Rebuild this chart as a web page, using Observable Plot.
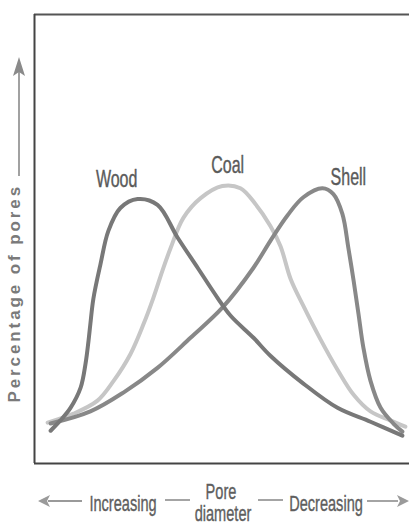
<!DOCTYPE html>
<html><head><meta charset="utf-8">
<script src="https://cdn.jsdelivr.net/npm/d3@7"></script>
<script src="https://cdn.jsdelivr.net/npm/@observablehq/plot@0.6"></script>
<style>
body{margin:0;background:#fff;}
#wrap{width:409px;height:523px;position:relative;overflow:hidden;background:#fff;}
#wrap svg{display:block;}
</style></head><body><div id="wrap"></div>
<script>
// Pore diameter position (0 = left edge of frame, 100 = right edge), percentage of pores (relative 0-100)
const woodX  = [4.3, 6.9, 9.6, 12.3, 13.6, 14.4, 14.9, 15.7, 17.6, 19.7, 22.9, 27.5, 32.8, 38.1, 43.5, 48.8, 52.3, 58.4, 62.9, 71.7, 80.8, 89.6, 98.1];
const woodY  = [7.3, 9.6, 12.4, 16.9, 22.2, 27.3, 31.1, 36.7, 44.4, 51.8, 56.9, 58.9, 57.6, 50.4, 43.6, 36.9, 32.9, 28.0, 24.0, 17.8, 12.4, 9.3, 6.2];
const coalX  = [3.5, 10.4, 16.8, 21.1, 25.6, 29.1, 31.7, 34.1, 36.3, 39.7, 44.3, 50.1, 54.9, 58.9, 62.9, 65.6, 68.3, 71.7, 76.3, 80.8, 85.1, 89.6, 94.9, 98.9];
const coalY  = [9.1, 11.1, 14.0, 18.4, 24.4, 31.1, 36.9, 42.9, 48.0, 54.7, 59.1, 61.8, 61.3, 57.8, 52.9, 48.4, 41.1, 35.1, 27.6, 20.9, 15.3, 11.6, 9.6, 8.2];
const shellX = [4.3, 14.9, 23.7, 32.8, 41.6, 50.1, 58.4, 62.9, 67.5, 71.7, 76.8, 79.7, 82.1, 83.7, 85.1, 86.4, 87.7, 89.6, 92.3, 95.7, 98.1];
const shellY = [8.9, 11.6, 15.8, 21.3, 28.0, 34.7, 43.6, 49.6, 55.3, 59.3, 61.3, 60.0, 55.6, 48.0, 40.7, 33.3, 25.8, 18.4, 12.4, 8.9, 7.1];

const seriesNames  = ["Coal", "Shell", "Wood"];
const seriesColors = ["#c6c6c6", "#888888", "#787878"];
const labelNames = ["Wood", "Coal", "Shell"];
const labelX = [21.9, 51.5, 83.7];
const labelY = [61.6, 64.8, 62.1];

const yTitle = "Percentage of pores";
const bottomWords = ["Increasing", "Pore", "diameter", "Decreasing"];

const xDomain = [0, 100];
const yDomain = [0, 100];

const rows = [];
const add = (name, xs, ys) => xs.forEach((x, i) => rows.push({series: name, x, y: ys[i]}));
add("Coal", coalX, coalY);
add("Shell", shellX, shellY);
add("Wood", woodX, woodY);
const labels = labelNames.map((t, i) => ({t, x: labelX[i], y: labelY[i]}));

const sans = '"Liberation Sans", Arial, Helvetica, sans-serif';

const chart = Plot.plot({
  width: 409, height: 470,
  marginLeft: 34, marginRight: 0, marginTop: 14, marginBottom: 7,
  x: {domain: xDomain, axis: null},
  y: {domain: yDomain, axis: null},
  color: {domain: seriesNames, range: seriesColors},
  marks: [
    Plot.ruleY([yDomain[1]], {stroke: "#555", strokeWidth: 2}),
    Plot.ruleY([yDomain[0]], {stroke: "#444", strokeWidth: 2.2}),
    Plot.ruleX([xDomain[0]], {stroke: "#444", strokeWidth: 2}),
    Plot.line(rows, {x: "x", y: "y", z: "series", stroke: "series", strokeWidth: 4, curve: "catmull-rom"}),
    Plot.text(labels, {x: "x", y: "y", text: "t", fontSize: 20, fill: "#5a5a5a", stroke: "#5a5a5a", strokeWidth: 0.35, fontFamily: sans, className: "curvelab"}),
    Plot.text([yTitle], {frameAnchor: "bottom-left", text: d => d, rotate: -90, textAnchor: "start", dx: -15, dy: -61,
      fontSize: 17, fontWeight: "bold", fill: "#7a7a7a", fontFamily: sans, className: "ytitle"})
  ]
});
const svg = d3.select(chart);
svg.selectAll(".curvelab text").each(function() {
  const t = d3.select(this);
  const x = +t.attr("x") || 0, y = +t.attr("y") || 0;
  const tr = t.attr("transform") || "";
  t.attr("x", null).attr("y", null).attr("transform", `${tr} translate(${x},${y}) scale(0.8,1.22)`);
});
svg.selectAll(".ytitle text").attr("letter-spacing", "2.9px");
// y arrow
svg.append("line").attr("x1", 19).attr("x2", 19).attr("y1", 176).attr("y2", 72).attr("stroke", "#8a8a8a").attr("stroke-width", 1.6);
svg.append("path").attr("d", "M19,57 L13,76 L19,72 L25,76 Z").attr("fill", "#8a8a8a");
document.getElementById("wrap").appendChild(chart);

// caption row below the plot
const cap = d3.select("#wrap").append("svg").attr("width", 409).attr("height", 53);
const g = cap.append("g").attr("stroke", "#9a9a9a").attr("stroke-width", 1.8);
g.append("line").attr("x1", 48).attr("x2", 82).attr("y1", 31).attr("y2", 31);
g.append("line").attr("x1", 165).attr("x2", 190).attr("y1", 30).attr("y2", 30);
g.append("line").attr("x1", 258).attr("x2", 283).attr("y1", 30).attr("y2", 30);
g.append("line").attr("x1", 367).attr("x2", 398).attr("y1", 31).attr("y2", 31);
cap.append("path").attr("d", "M38,31 L50,25 L47,31 L50,37 Z").attr("fill", "#9a9a9a");
cap.append("path").attr("d", "M409,31 L397,25 L400,31 L397,37 Z").attr("fill", "#9a9a9a");
const tpos = [[123, 41], [221, 29], [223, 51], [326, 41]];
bottomWords.forEach((w, i) => {
  cap.append("text").text(w).attr("text-anchor", "middle")
    .attr("transform", `translate(${tpos[i][0]},${tpos[i][1]}) scale(0.81,1.24)`)
    .attr("font-family", sans).attr("font-size", 18).attr("fill", "#5e5e5e")
    .attr("stroke", "#5e5e5e").attr("stroke-width", 0.3);
});
</script>
</body></html>
